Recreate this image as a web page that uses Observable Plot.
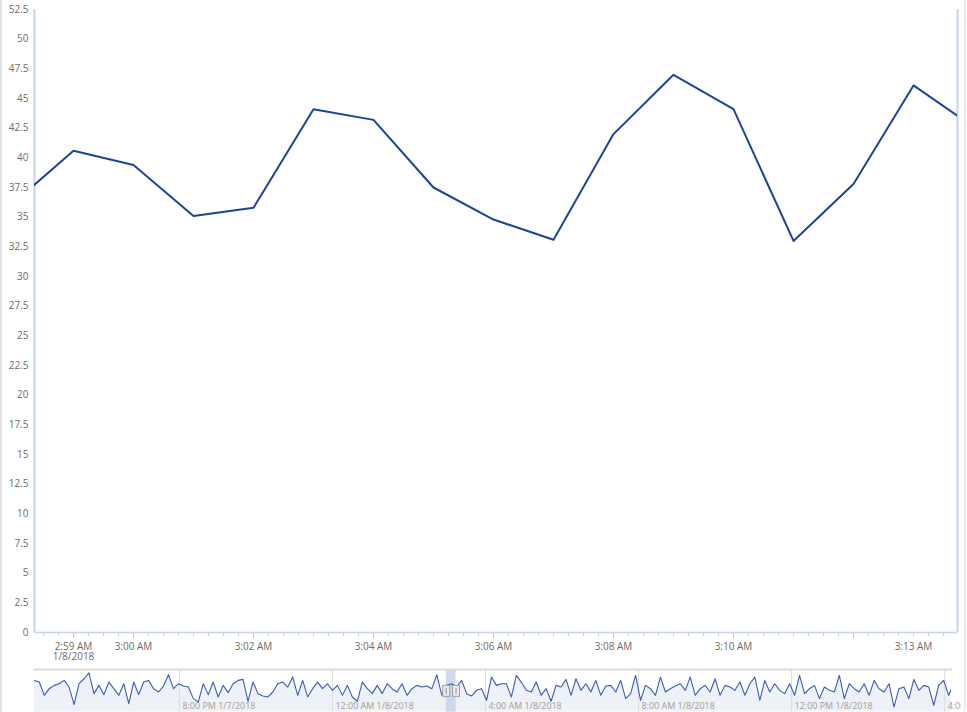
<!DOCTYPE html>
<html>
<head>
<meta charset="utf-8">
<script src="https://cdn.jsdelivr.net/npm/d3@7"></script>
<script src="https://cdn.jsdelivr.net/npm/@observablehq/plot@0.6"></script>
<style>
  html, body { margin: 0; padding: 0; background: #fff; overflow: hidden; }
  #chart { position: relative; width: 967px; height: 712px; overflow: hidden; }
  #main, #nav { position: absolute; left: 0; }
  #main { top: 0; }
  #nav { top: 665px; width: 961px; overflow: hidden; }
  .edge { position: absolute; top: 0; bottom: 0; width: 2px; }
</style>
</head>
<body>
<div id="chart">
  <div id="main"></div>
  <div id="nav"></div>
  <div class="edge" style="left:0;background:#e2e2e2"></div>
  <div class="edge" style="right:1px;background:#ebebeb"></div>
</div>
<script>
// one reading per minute, 2:58 and 3:14 sit just outside the visible window
const minuteTimes = ["02:58", "02:59", "03:00", "03:01", "03:02", "03:03", "03:04", "03:05", "03:06",
  "03:07", "03:08", "03:09", "03:10", "03:11", "03:12", "03:13", "03:14"];
const minuteValues = [36.2, 40.6, 39.4, 35.1, 35.8, 44.1, 43.2, 37.5, 34.8,
  33.1, 42.0, 47.0, 44.1, 33.0, 37.8, 46.1, 42.6];

const viewStart = new Date(2018, 0, 8, 2, 58, 21);
const viewEnd = new Date(2018, 0, 8, 3, 13, 44);

const yTicks = [0, 2.5, 5, 7.5, 10, 12.5, 15, 17.5, 20, 22.5, 25, 27.5, 30, 32.5, 35, 37.5, 40,
  42.5, 45, 47.5, 50, 52.5];
const xLabelTimes = ["02:59", "03:00", "03:02", "03:04", "03:06", "03:08", "03:10", "03:13"];
const xLabelTexts = ["2:59 AM", "3:00 AM", "3:02 AM", "3:04 AM", "3:06 AM", "3:08 AM",
  "3:10 AM", "3:13 AM"];
const xDateTime = "02:59";
const xDateText = "1/8/2018";
const xMajorTimes = ["02:59", "03:00", "03:02", "03:04", "03:06", "03:08", "03:10", "03:12"];

// navigator: the whole day, one sample roughly every 7.8 minutes
const navStart = new Date(2018, 0, 7, 16, 12, 30);
const navEnd = new Date(2018, 0, 8, 16, 10, 42);
const navStepMinutes = 7.792;
const navValues = [
  41.75, 40.5, 30.5, 35.5, 38, 39.25, 41.75, 36.75, 23.5, 39.25, 43, 47.5, 31.75, 38, 31, 40.5,
  35.5, 30.5, 39.25, 24.25, 40.5, 31, 40.5, 41.75, 35.5, 33, 37.5, 46, 35.5, 39.25, 37.5, 36.75,
  28, 25.5, 39.25, 31, 40.5, 29.25, 38, 32.5, 39.25, 41.75, 42.5, 26, 40.5, 31.75, 30, 29.25,
  33, 39.25, 40.5, 36.75, 44.25, 30.5, 41.75, 29.25, 35.5, 40.5, 35.5, 39.25, 34.25, 38, 30.5, 38,
  29.25, 26, 40.5, 35.5, 31.75, 38, 31.75, 39.25, 35.5, 33, 39.25, 30.5, 35.5, 38, 36.75, 37.5,
  35.5, 46, 30.5, 38, 39.25, 36.75, 41.75, 31.75, 30, 34.25, 35.5, 26.75, 44.25, 38, 39.25,
  39.25, 29.25, 45.5, 40.5, 34.25, 33, 40.5, 30.5, 35.5, 26, 38, 36.75, 42.5, 30.5, 43, 34.25,
  39.25, 33, 41.75, 30.5, 37.5, 38, 33, 41.75, 28, 31.75, 45.5, 26.75, 38, 35.5, 30.5, 44.25,
  33, 35.5, 37.5, 39.25, 34.25, 44.25, 30.5, 35.5, 38, 33, 43, 30.5, 38, 36.75, 34.25,
  40.5, 30.5, 39.25, 44.25, 26.75, 41.75, 33, 39.25, 34.25, 31.75, 39.25, 30.5, 45.5, 31.75, 35.5,
  38, 28, 36.75, 34.25, 33, 45.5, 28, 39.25, 35.5, 33, 39.25, 30.5, 41.75, 35.5, 33, 39.25,
  21.75, 35.5, 36.75, 28, 42.5, 34.25, 38, 36.75, 23, 38, 41.75, 30.5, 39.25
];
const navYDomain = [17.75, 50];
const navLabelDates = [new Date(2018, 0, 7, 20), new Date(2018, 0, 8, 0), new Date(2018, 0, 8, 4),
  new Date(2018, 0, 8, 8), new Date(2018, 0, 8, 12), new Date(2018, 0, 8, 16)];
const navLabelTexts = ["8:00 PM 1/7/2018", "12:00 AM 1/8/2018", "4:00 AM 1/8/2018",
  "8:00 AM 1/8/2018", "12:00 PM 1/8/2018", "4:00 PM 1/8/2018"];

const axisBlue = "#c6d3ea";
const labelGrey = "#6f6a66";

const at = (hm) => {
  const [h, m] = hm.split(":").map(Number);
  return new Date(2018, 0, 8, h, m);
};
const mainRows = minuteTimes.map((t, i) => ({time: at(t), value: minuteValues[i]}));
const xLabels = xLabelTimes.map((t, i) => ({time: at(t), text: xLabelTexts[i]}));
const quarterTicks = d3.timeSecond.every(15).range(viewStart, viewEnd);

const main = Plot.plot({
  width: 967,
  height: 667,
  marginLeft: 34,
  marginRight: 10,
  marginTop: 9,
  marginBottom: 35,
  style: {fontFamily: '"Open Sans", sans-serif', fontSize: "10px", background: "transparent", color: labelGrey},
  x: {type: "time", domain: [viewStart, viewEnd], axis: null},
  y: {domain: [0, 52.5], axis: null},
  marks: [
    Plot.axisY({ticks: yTicks, tickSize: 0, tickPadding: 6, label: null, fill: labelGrey, tickFormat: (d) => String(d)}),
    Plot.axisX({ticks: quarterTicks, tickSize: 4, tickFormat: () => "", stroke: axisBlue, label: null}),
    Plot.axisX({ticks: xMajorTimes.map(at), tickSize: 6, tickFormat: () => "", stroke: "#b3c3e2", label: null}),
    Plot.text(xLabels, {
      x: "time", text: "text", frameAnchor: "bottom", lineAnchor: "top", dy: 10,
      fill: labelGrey, fontSize: 10
    }),
    Plot.text([{time: at(xDateTime), text: xDateText}], {
      x: "time", text: "text", frameAnchor: "bottom", lineAnchor: "top", dy: 20,
      fill: labelGrey, fontSize: 10
    }),
    Plot.ruleY([0], {stroke: axisBlue, strokeWidth: 1.5}),
    Plot.ruleX([viewStart, viewEnd], {stroke: axisBlue, strokeWidth: 2}),
    Plot.line(mainRows, {x: "time", y: "value", stroke: "#1c449b", strokeWidth: 2, clip: true})
  ]
});
document.getElementById("main").append(main);

const navRows = navValues.map((v, i) => ({time: new Date(+navStart + i * navStepMinutes * 60000), value: v}));
const navLabels = navLabelDates.map((d, i) => ({time: d, text: navLabelTexts[i]}));

const nav = Plot.plot({
  width: 967,
  height: 47,
  marginLeft: 34,
  marginRight: 10,
  marginTop: 4,
  marginBottom: 0,
  style: {fontFamily: '"Open Sans", sans-serif', background: "transparent"},
  x: {type: "time", domain: [navStart, navEnd], axis: null},
  y: {domain: navYDomain, axis: null},
  marks: [
    Plot.areaY(navRows, {x: "time", y1: navYDomain[0], y2: "value", fill: "#eef1f8", clip: true}),
    Plot.ruleX(navLabelDates, {stroke: "#dcdcdc"}),
    Plot.text(navLabels, {
      x: "time", text: "text", frameAnchor: "bottom", textAnchor: "start", lineAnchor: "bottom",
      dx: 3, dy: -3, fill: "#a59d95", fontSize: 9
    }),
    Plot.rect([{a: viewStart, b: viewEnd}], {x1: "a", x2: "b", fill: "#c5d3ea", fillOpacity: 0.85}),
    Plot.line(navRows, {x: "time", y: "value", stroke: "#3a5cb4", strokeWidth: 1.1, clip: true}),
    Plot.ruleX([viewStart, viewEnd], {stroke: "#9c9c9c", strokeWidth: 8, insetTop: 16, insetBottom: 15}),
    Plot.ruleX([viewStart, viewEnd], {stroke: "#ececec", strokeWidth: 6, insetTop: 17, insetBottom: 16}),
    Plot.ruleX([viewStart, viewEnd], {stroke: "#8a8a8a", strokeWidth: 1, insetTop: 19, insetBottom: 18}),
    Plot.frame({anchor: "top", stroke: "#dcdcdc", strokeWidth: 2})
  ]
});
document.getElementById("nav").append(nav);
</script>
</body>
</html>
